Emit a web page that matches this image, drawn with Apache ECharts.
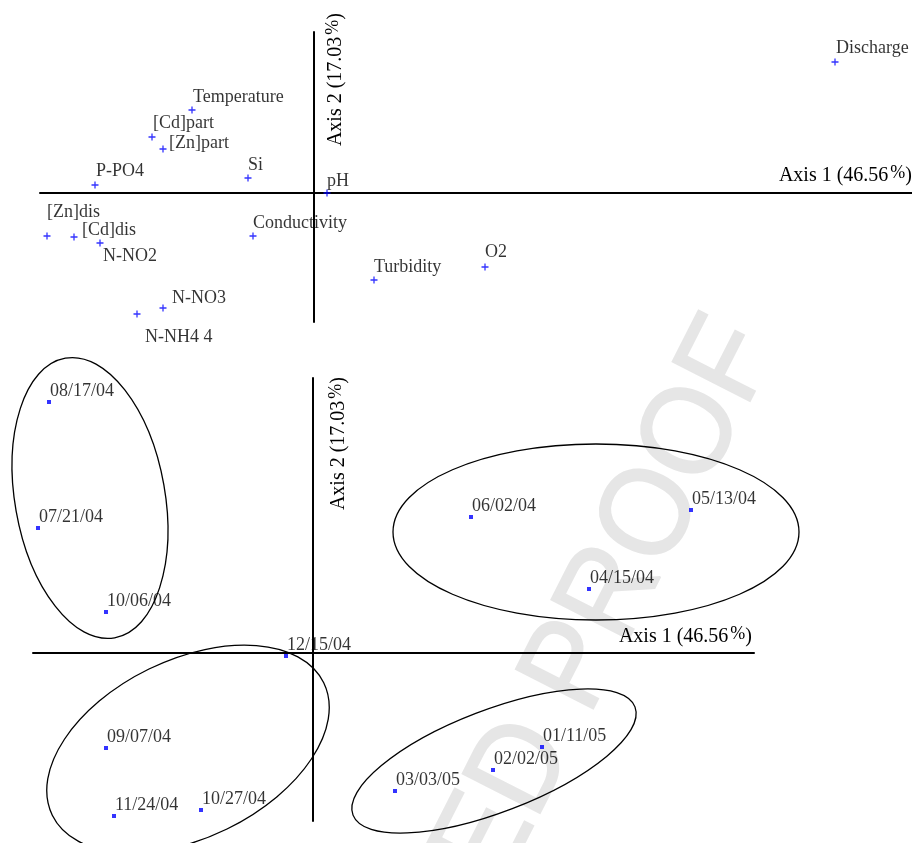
<!DOCTYPE html>
<html>
<head>
<meta charset="utf-8">
<script src="https://cdn.jsdelivr.net/npm/echarts@6/dist/echarts.min.js"></script>
<style>
html,body{margin:0;padding:0;background:#fff;}
#chart{width:912px;height:843px;}
</style>
</head>
<body>
<div id="chart"></div>
<script>
// ---------- Variables (top plot: correlation of variables) ----------
const varNames = ['Discharge','Temperature','[Cd]part','[Zn]part','Si','P-PO4','pH','[Zn]dis','[Cd]dis','N-NO2','Conductivity','Turbidity','O2','N-NO3','N-NH4 4'];
const varAxis1 = [5.21,-1.22,-1.62,-1.51,-0.66,-2.19,0.13,-2.67,-2.40,-2.14,-0.61,0.60,1.71,-1.51,-1.77];
const varAxis2 = [1.31,0.83,0.56,0.44,0.15,0.08,0.00,-0.43,-0.44,-0.50,-0.43,-0.87,-0.74,-1.15,-1.21];

// ---------- Sampling dates (bottom plot) ----------
const dateNames = ['08/17/04','07/21/04','10/06/04','12/15/04','09/07/04','11/24/04','10/27/04','06/02/04','05/13/04','04/15/04','01/11/05','02/02/05','03/03/05'];
const dateAxis1 = [-2.64,-2.75,-2.07,-0.27,-2.07,-1.99,-1.12,1.58,3.78,2.76,2.29,1.80,0.82];
const dateAxis2 = [2.51,1.25,0.41,-0.03,-0.95,-1.63,-1.57,1.36,1.43,0.64,-0.94,-1.17,-1.38];

// ---------- Group ellipses (center, semi-axes, tilt in degrees) ----------
const groupCenterX = [-2.23,-1.25,2.83,1.81];
const groupCenterY = [1.55,-0.96,1.21,-1.08];
const groupSemiMajor = [1.42,1.51,2.03,1.51];
const groupSemiMinor = [0.75,0.89,0.88,0.51];
const groupAngle = [100,26,0,21];

// ---------- Axis titles ----------
const axis1Title = ['Axis 1 (46.56', '%', ')'];
const axis2Title = ['Axis 2 (17.03', '%', ')'];

// ---------- Label offsets (styling) ----------
const varLabelDx = [1,1,1,6,0,1,0,0,8,3,0,0,0,9,8];
const varLabelDy = [-14,-13,-14,-6,-13,-14,-12,-24,-7,13,-13,-13,-15,-10,23];

const FONT = '"Liberation Serif", "Times New Roman", serif';
const PLUS = 'path://M2.85,0h1.3v2.85h2.85v1.3h-2.85v2.85h-1.3v-2.85h-2.85v-1.3h2.85z';

const richTitle = {
  a: {fontFamily: FONT, fontSize: 20, color: '#000'},
  p: {fontFamily: FONT, fontSize: 18, color: '#000', padding: [0, 0, 5, 2]}
};
const titleText = t => '{a|' + t[0] + '}{p|' + t[1] + '}{a|' + t[2] + '}';

const varData = varNames.map((n, i) => ({
  name: n,
  value: [varAxis1[i], varAxis2[i]],
  label: {position: [varLabelDx[i] + 3.5, varLabelDy[i] + 3.5]}
}));
const dateData = dateNames.map((n, i) => ({
  name: n,
  value: [dateAxis1[i], dateAxis2[i]]
}));
const ellipseData = groupCenterX.map((c, i) => [c, groupCenterY[i], groupSemiMajor[i], groupSemiMinor[i], groupAngle[i]]);

function hiddenAxis(extra) {
  return Object.assign({
    type: 'value',
    axisLine: {show: true, onZero: true, lineStyle: {color: '#000', width: 2}},
    axisTick: {show: false},
    axisLabel: {show: false},
    splitLine: {show: false}
  }, extra);
}

const chart = echarts.init(document.getElementById('chart'), null, {renderer: 'canvas'});
chart.setOption({
  backgroundColor: '#fff',
  animation: false,
  graphic: [{
    type: 'text',
    z: -10,
    silent: true,
    x: 747, y: 330,
    rotation: 63 * Math.PI / 180,
    scaleX: 0.93,
    style: {
      text: 'UNCORRECTED PROOF',
      font: 'normal 126px "Liberation Sans", Arial, sans-serif',
      fill: '#e6e6e6',
      stroke: '#e6e6e6',
      lineWidth: 2,
      align: 'right', verticalAlign: 'middle',
      textAlign: 'right', textVerticalAlign: 'middle'
    }
  }],
  grid: [
    {left: 40, top: 32, width: 872, height: 290, containLabel: false, outerBoundsMode: 'none'},
    {left: 33, top: 378, width: 721, height: 443, containLabel: false, outerBoundsMode: 'none'}
  ],
  xAxis: [
    hiddenAxis({gridIndex: 0, min: -2.74, max: 5.98, name: titleText(axis1Title), nameLocation: 'end', nameGap: 0,
      nameTextStyle: {align: 'right', verticalAlign: 'bottom', padding: [0, 0, 6, 0], rich: richTitle}}),
    hiddenAxis({gridIndex: 1, min: -2.80, max: 4.41, name: titleText(axis1Title), nameLocation: 'end', nameGap: -2,
      nameTextStyle: {align: 'right', verticalAlign: 'bottom', padding: [0, 0, 5, 0], rich: richTitle}})
  ],
  yAxis: [
    hiddenAxis({gridIndex: 0, min: -1.29, max: 1.61, name: titleText(axis2Title), nameLocation: 'end', nameGap: 19, nameRotate: 90,
      nameTextStyle: {align: 'right', verticalAlign: 'top', padding: [10, 0, 0, 0], rich: richTitle}}),
    hiddenAxis({gridIndex: 1, min: -1.68, max: 2.75, name: titleText(axis2Title), nameLocation: 'end', nameGap: 1, nameRotate: 90,
      nameTextStyle: {align: 'right', verticalAlign: 'top', padding: [14, 0, 0, 0], rich: richTitle}})
  ],
  series: [
    {
      type: 'custom',
      xAxisIndex: 1, yAxisIndex: 1,
      clip: false,
      silent: true,
      data: ellipseData,
      renderItem: function (params, api) {
        const c = api.coord([api.value(0), api.value(1)]);
        const s = api.size([api.value(2), api.value(3)]);
        return {
          type: 'ellipse',
          x: c[0], y: c[1],
          rotation: api.value(4) * Math.PI / 180,
          shape: {cx: 0, cy: 0, rx: s[0], ry: s[1]},
          style: {fill: null, stroke: '#000', lineWidth: 1.3}
        };
      }
    },
    {
      type: 'scatter',
      xAxisIndex: 0, yAxisIndex: 0,
      symbol: PLUS,
      symbolSize: 7,
      itemStyle: {color: '#0000ff'},
      label: {show: true, formatter: '{b}', align: 'left', verticalAlign: 'middle',
        fontFamily: FONT, fontSize: 18, color: '#000'},
      data: varData
    },
    {
      type: 'scatter',
      xAxisIndex: 1, yAxisIndex: 1,
      symbol: 'rect',
      symbolSize: 4,
      itemStyle: {color: '#0000ff'},
      label: {show: true, formatter: '{b}', position: [3, -9], align: 'left', verticalAlign: 'middle',
        fontFamily: FONT, fontSize: 18, color: '#000'},
      data: dateData
    }
  ]
});
</script>
</body>
</html>
